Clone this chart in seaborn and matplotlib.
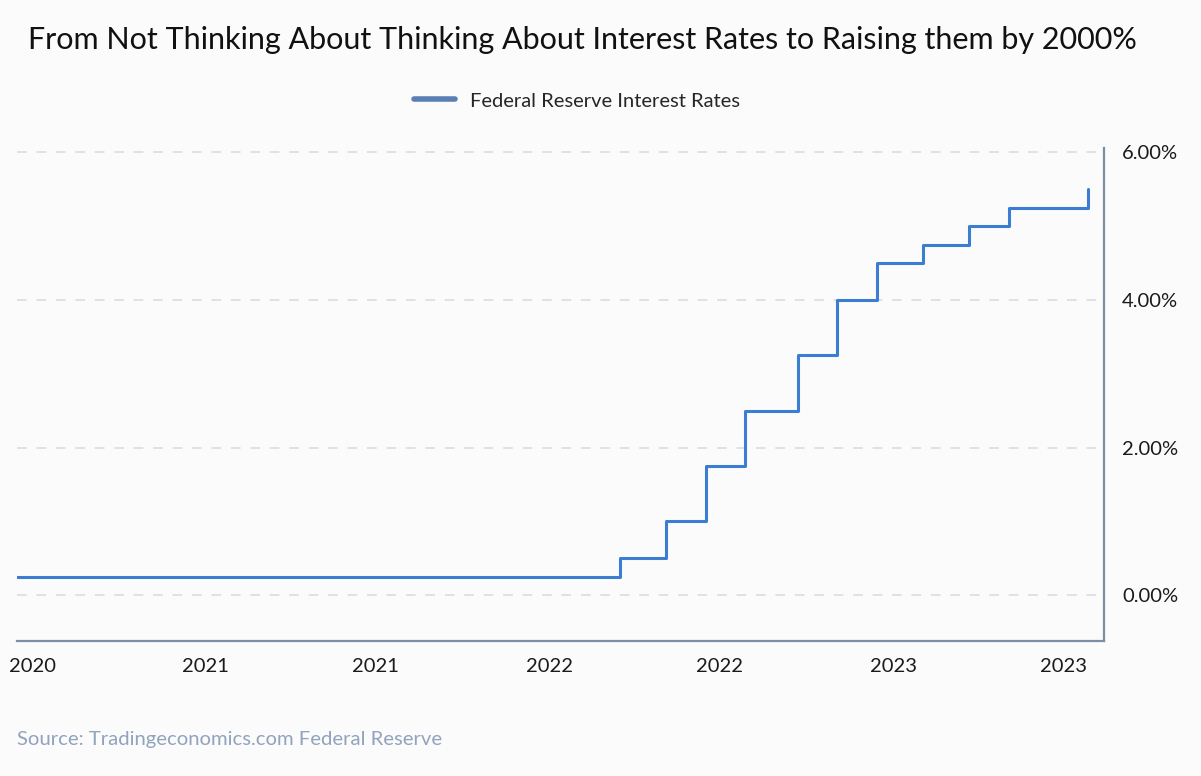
import pandas as pd
import numpy as np
import seaborn as sns
import matplotlib.pyplot as plt
import matplotlib.dates as mdates
from matplotlib.ticker import FuncFormatter
from matplotlib.lines import Line2D

# rate changes (upper bound of fed funds target, %)
change_dates = ['2020-06-15', '2022-03-17', '2022-05-05', '2022-06-16', '2022-07-28',
                '2022-09-22', '2022-11-03', '2022-12-15', '2023-02-02', '2023-03-23',
                '2023-05-04', '2023-07-27']
rates = [0.25, 0.5, 1.0, 1.75, 2.5, 3.25, 4.0, 4.5, 4.75, 5.0, 5.25, 5.5]

tick_dates = ['2020-07-01', '2021-01-01', '2021-07-01', '2022-01-01',
              '2022-07-01', '2023-01-01', '2023-07-01']
y_ticks = [0, 2, 4, 6]

df = pd.DataFrame({'date': pd.to_datetime(change_dates), 'rate': rates})

sns.set_theme(style='white')
plt.rcParams['font.family'] = ['Lato', 'DejaVu Sans']

bg = '#fbfbfc'
fig = plt.figure(figsize=(12.01, 7.76), dpi=100, facecolor=bg)
ax = fig.add_axes([17 / 1201, 1 - 641 / 776, (1104 - 17) / 1201, (641 - 148) / 776])
ax.set_facecolor(bg)

sns.lineplot(data=df, x='date', y='rate', ax=ax, color='#3b7dd0', linewidth=2.2,
             drawstyle='steps-post')

ax.set_xlim(pd.Timestamp('2020-06-15'), pd.Timestamp('2023-08-13'))
ax.set_ylim(-0.62, 6.06)

ax.set_xticks(pd.to_datetime(tick_dates))
ax.xaxis.set_major_formatter(mdates.DateFormatter('%Y'))
ax.set_yticks(y_ticks)
ax.yaxis.set_major_formatter(FuncFormatter(lambda v, p: f'{v:.2f}%'))
ax.yaxis.tick_right()
ax.tick_params(axis='both', length=0, labelsize=14.5, colors='#1a1a1a')
ax.tick_params(axis='x', pad=12)
ax.tick_params(axis='y', pad=13)

ax.grid(axis='y', linestyle=(0, (5, 5)), color='#dde2e8', linewidth=1.4)
ax.grid(axis='x', visible=False)
for s in ['left', 'top']:
    ax.spines[s].set_visible(False)
for s in ['right', 'bottom']:
    ax.spines[s].set_color('#7d8ea4')
    ax.spines[s].set_linewidth(1.6)
ax.set_xlabel('')
ax.set_ylabel('')

handle = Line2D([], [], color='#5b7fb5', linewidth=4, solid_capstyle='round')
fig.legend([handle], ['Federal Reserve Interest Rates'], loc='center',
           bbox_to_anchor=(577 / 1201, 1 - 101 / 776), frameon=False, fontsize=14.5,
           handlelength=2.0, handletextpad=0.75)

fig.text(582 / 1201, 1 - 40 / 776,
         'From Not Thinking About Thinking About Interest Rates to Raising them by 2000%',
         ha='center', va='center', fontsize=22, color='#111111')
fig.text(17 / 1201, 1 - 740 / 776, 'Source: Tradingeconomics.com Federal Reserve',
         ha='left', va='center', fontsize=14.6, color='#91a3bd')

fig.savefig('out.png', dpi=100, facecolor=bg)
